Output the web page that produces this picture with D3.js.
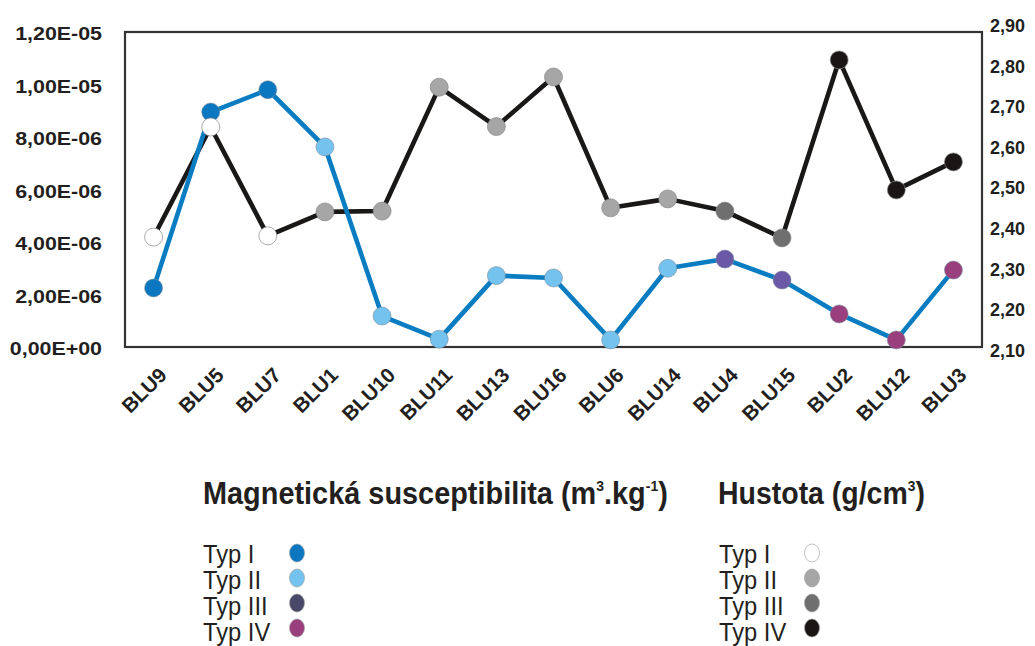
<!DOCTYPE html>
<html><head><meta charset="utf-8">
<script src="https://cdn.jsdelivr.net/npm/d3@7"></script>
<style>body{margin:0;background:#fff}svg{display:block}</style>
</head><body>
<svg id="c" width="1035" height="646"></svg>
<script>
const categories = ["BLU9","BLU5","BLU7","BLU1","BLU10","BLU11","BLU13","BLU16","BLU6","BLU14","BLU4","BLU15","BLU2","BLU12","BLU3"];
const magValues = [2.25e-6,8.95e-6,9.8e-6,7.62e-6,1.18e-6,0.3e-6,2.72e-6,2.63e-6,0.27e-6,3.0e-6,3.35e-6,2.55e-6,1.26e-6,0.27e-6,2.93e-6];
const densValues = [2.378,2.649,2.381,2.44,2.442,2.747,2.65,2.772,2.45,2.472,2.442,2.376,2.814,2.494,2.563];
const types = [1,1,1,2,2,2,2,2,2,2,3,3,4,4,4];
const leftTicks = [0,2e-6,4e-6,6e-6,8e-6,1e-5,1.2e-5];
const leftTickLabels = ["0,00E+00","2,00E-06","4,00E-06","6,00E-06","8,00E-06","1,00E-05","1,20E-05"];
const rightTicks = [2.1,2.2,2.3,2.4,2.5,2.6,2.7,2.8,2.9];
const rightTickLabels = ["2,10","2,20","2,30","2,40","2,50","2,60","2,70","2,80","2,90"];
const typeNames = ["Typ I","Typ II","Typ III","Typ IV"];
const magColors = ["#0b77c0","#74c3ee","#6a59a7","#9a3f7d"];
const magLegendColors = ["#0b77c0","#74c3ee","#4a4868","#9a3f7d"];
const densColors = ["#ffffff","#a6a6a6","#6f6f6f","#1a1616"];

const svg = d3.select("#c");
const L=125,R=982,T=32,B=347;
const x = d3.scaleBand().domain(categories).range([L,R]);
const cx = d => x(d)+x.bandwidth()/2;
const yL = d3.scaleLinear().domain([0,1.2e-5]).range([B,T]);
const yR = d3.scaleLinear().domain([2.1,2.9]).range([350,25]);

const tickFont = "Liberation Sans, Arial, sans-serif";
const FS = 18;
const SX = 1.19;
// left axis
svg.append("g").attr("transform",`translate(${L},0)`)
  .call(d3.axisLeft(yL).tickValues(leftTicks).tickSize(0).tickPadding(23).tickFormat((d,i)=>leftTickLabels[i]))
  .call(g=>g.select(".domain").remove())
  .selectAll("text").attr("font-family",tickFont).attr("font-weight","bold").attr("font-size",FS)
  .attr("fill","#231f20").attr("dy","0.44em")
  .attr("x",-23/SX).attr("transform",`scale(${SX},1)`);
// right axis
svg.append("g").attr("transform",`translate(${R},0)`)
  .call(d3.axisRight(yR).tickValues(rightTicks).tickSize(0).tickPadding(8).tickFormat((d,i)=>rightTickLabels[i]))
  .call(g=>g.select(".domain").remove())
  .selectAll("text").attr("font-family",tickFont).attr("font-weight","bold").attr("font-size",FS)
  .attr("fill","#231f20").attr("dy","0.36em");
// x labels (rotated)
svg.append("g").selectAll("text").data(categories).join("text")
  .attr("font-family",tickFont).attr("font-weight","bold").attr("font-size",20.5)
  .attr("text-rendering","geometricPrecision")
  .style("text-rendering","geometricPrecision")
  .attr("fill","#231f20").attr("text-anchor","end").attr("dy","0.72em")
  .attr("transform",d=>`translate(${cx(d)+4},${B+19}) rotate(-45)`)
  .text(d=>d);

// frame
svg.append("rect").attr("x",L).attr("y",T).attr("width",R-L).attr("height",B-T)
  .attr("fill","none").attr("stroke","#333").attr("stroke-width",2.2);

const idx = d3.range(categories.length);
// density line
svg.append("path").datum(idx).attr("fill","none").attr("stroke","#1a1717").attr("stroke-width",4.6)
  .attr("stroke-linejoin","round")
  .attr("d",d3.line().x(i=>cx(categories[i])).y(i=>yR(densValues[i])));
// mag line
svg.append("path").datum(idx).attr("fill","none").attr("stroke","#0a7cc1").attr("stroke-width",4.6)
  .attr("stroke-linejoin","round")
  .attr("d",d3.line().x(i=>cx(categories[i])).y(i=>yL(magValues[i])));
// mag points
svg.append("g").selectAll("circle").data(idx).join("circle")
  .attr("cx",i=>cx(categories[i])).attr("cy",i=>yL(magValues[i])).attr("r",9)
  .attr("fill",i=>magColors[types[i]-1]).attr("stroke","#7a8a9a").attr("stroke-width",0.6);
// dens points
svg.append("g").selectAll("circle").data(idx).join("circle")
  .attr("cx",i=>cx(categories[i])).attr("cy",i=>yR(densValues[i])).attr("r",9)
  .attr("fill",i=>densColors[types[i]-1]).attr("stroke","#888").attr("stroke-width",0.7);

// legends
const narrow = "Liberation Sans Narrow, Arial Narrow, Liberation Sans, sans-serif";
function fit(sel, x0, y0, w){
  const len = sel.node().getComputedTextLength();
  sel.attr("x",0).attr("y",0).attr("transform",`translate(${x0},${y0}) scale(${w/len},1)`);
}
function title(xp, w, parts){
  const t = svg.append("text").attr("font-family",narrow)
    .attr("font-weight","bold").attr("font-size",31).attr("fill","#231f20");
  parts.forEach(p=>{
    const s=t.append("tspan").text(p[0]);
    if(p[1]==="up") s.attr("font-size",15).attr("dy",-13);
    if(p[1]==="down") s.attr("dy",13);
  });
  fit(t, xp, 504, w);
}
title(203,465,[["Magnetická susceptibilita (m"],["3","up"],[".kg","down"],["-1","up"],[")","down"]]);
title(718,207,[["Hustota (g/cm"],["3","up"],[")","down"]]);

function legend(xt, xc, colors){
  const g = svg.append("g");
  typeNames.forEach((n,i)=>{
    g.append("text").attr("font-family",narrow)
      .attr("font-size",25).attr("fill","#231f20").text(n)
      .attr("transform",`translate(${xt},${563+i*26}) scale(0.95,1)`);
    g.append("ellipse").attr("cx",xc).attr("cy",553+i*25).attr("rx",7.5).attr("ry",9)
      .attr("fill",colors[i]).attr("stroke","#999").attr("stroke-width",0.6);
  });
}
legend(203,297,magLegendColors);
legend(719,812,densColors);
</script>
</body></html>
